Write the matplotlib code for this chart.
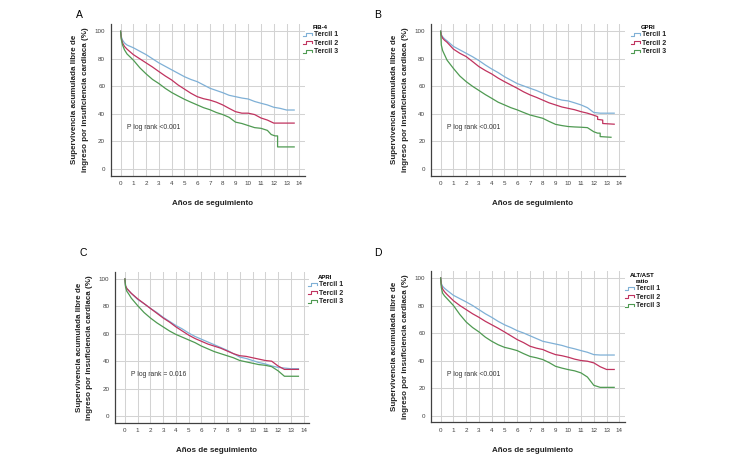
import numpy as np
import matplotlib
matplotlib.use("Agg")
import matplotlib.pyplot as plt
from matplotlib.lines import Line2D
from matplotlib.legend_handler import HandlerBase

plt.rcParams['font.family'] = ['Liberation Sans', 'DejaVu Sans']

# ---- data ----
years = [0, 0.05, 0.15, 0.3, 0.5, 1, 1.5, 2, 2.5, 3, 3.5, 4, 4.5, 5, 5.5, 6, 6.5,
         7, 7.5, 8, 8.5, 9, 9.5, 10, 10.5, 11, 11.5, 12, 12.5, 13, 13.6]

# A: FIB-4
fib4_t1 = [100, 96, 93.5, 91.5, 90, 88, 85.5, 83, 80, 77, 74.5, 72, 69.5, 67, 65, 63.4,
           61, 58.6, 57, 55.4, 53.5, 52.5, 51.5, 50.8, 49, 47.7, 46.5, 44.8, 44, 42.8, 42.8]
fib4_t2 = [100, 95, 91.5, 89, 87, 83, 80, 77, 74, 70.7, 67.5, 64.6, 61, 58, 55, 52.5,
           51, 50, 48.5, 46.5, 44, 41.6, 40.5, 40.5, 39.5, 37, 35.5, 33.3, 33.3, 33.3, 33.3]
fib4_t3_years = [0, 0.05, 0.15, 0.3, 0.5, 1, 1.5, 2, 2.5, 3, 3.5, 4, 4.5, 5, 5.5, 6, 6.5,
                 7, 7.5, 8, 8.5, 9, 9.5, 10, 10.5, 11, 11.5, 11.8, 12.1, 12.3, 12.3, 13.6]
fib4_t3 = [100, 94, 90, 86.5, 83.5, 79, 73.5, 69, 65, 62, 58.5, 55.5, 53, 50.6, 48.5, 46.5,
           44.5, 43, 41, 39.5, 37.5, 34, 33, 31.5, 30, 29.5, 28, 25, 24, 24, 16, 16]

# B: GPRI
gpri_t1 = [100, 97.5, 96, 94.5, 93, 89, 86.5, 84, 81.5, 78.7, 75.5, 72.6, 70, 67, 64.5, 62,
           60.3, 58.6, 57, 55, 53, 51.3, 50, 49.4, 48, 46.5, 44.5, 41, 40.5, 40.5, 40.5]
gpri_t2_years = [0, 0.05, 0.15, 0.3, 0.5, 1, 1.5, 2, 2.5, 3, 3.5, 4, 4.5, 5, 5.5, 6, 6.5,
                 7, 7.5, 8, 8.5, 9, 9.5, 10, 10.5, 11, 11.5, 12, 12.3, 12.3, 12.7, 12.7, 13.6]
gpri_t2 = [100, 97, 95, 93.5, 92, 87, 84, 81.6, 78, 74.3, 71.5, 69, 66, 63.4, 61, 58.6,
           56, 53.8, 52, 50, 48, 46.5, 45, 44, 43, 41.6, 40.5, 39, 38, 36, 35.5, 33, 32.5]
gpri_t3_years = [0, 0.05, 0.15, 0.3, 0.5, 1, 1.5, 2, 2.5, 3, 3.5, 4, 4.5, 5, 5.5, 6, 6.5,
                 7, 7.5, 8, 8.5, 9, 9.5, 10, 10.5, 11, 11.5, 12, 12.3, 12.5, 12.5, 13.35]
gpri_t3 = [100, 90, 86, 83, 79, 73, 67.5, 63.4, 60, 57, 54, 51.3, 48.5, 46.5, 44.5, 42.9,
           41, 39.2, 38, 36.8, 34.5, 32.4, 31.5, 30.8, 30.5, 30.3, 30, 27, 26, 26, 23.5, 23]

# C: APRI
apri_t1 = [100, 95, 93, 91.5, 89.5, 85, 82, 78.5, 75.5, 72, 69, 66, 63.5, 60.5, 58, 56,
           54, 52, 50, 48, 45.5, 43, 42, 40.5, 39, 38, 36.5, 35.5, 35, 34.5, 34.5]
apri_t2 = [100, 95, 93, 91.5, 89.5, 85.5, 82, 78.5, 75, 71.5, 68.5, 65, 62, 59, 56.5, 54.5,
           52.5, 51, 49.5, 47.5, 45.5, 44, 43.5, 42.5, 41.5, 40.5, 40, 36.5, 34, 34, 34]
apri_t3 = [100, 94, 91, 89, 86, 80.5, 75.5, 71.5, 68, 65, 62, 59.5, 57.5, 55.5, 53.5, 51,
           49, 47, 45.5, 44, 42.5, 40.5, 39.5, 38.5, 37.5, 37, 36, 33, 29, 29, 29]

# D: ALT/AST ratio
altast_t1 = [100, 96, 94, 92.5, 91, 87.4, 85, 82.6, 80, 77, 74, 71.4, 68.5, 66, 64, 61.7,
             60, 58, 56, 54, 53, 52, 51, 49.6, 48.5, 47.2, 46, 44.3, 44, 44, 44]
altast_t2 = [100, 95, 92, 90, 88, 83.5, 80, 77, 74, 71.4, 68.5, 66, 63.5, 60.8, 58, 55.2,
             53, 50.4, 49, 48, 46, 44.3, 43.5, 42.4, 41, 40, 39.5, 38.3, 35.5, 33.5, 33.5]
altast_t3 = [100, 93, 89, 87, 85, 80, 73.5, 68, 64, 60.8, 57, 54, 51.5, 49.6, 48.5, 47.2,
             45, 43, 42, 40.7, 38.5, 35.8, 34.5, 33.4, 32.5, 31, 28, 22, 20.5, 20.5, 20.5]

labels = ["Tercil 1", "Tercil 2", "Tercil 3"]
COLORS = ["#7fb0d6", "#c0335f", "#4f9a52"]

panels = [
    dict(letter="A", title="FIB-4", ptext="P log rank <0.001",
         series=[(years, fib4_t1), (years, fib4_t2), (fib4_t3_years, fib4_t3)],
         rect=[0.1476, 0.6254, 0.2591, 0.3235], letter_xy=(79, 15), leg_xy=(303, 25)),
    dict(letter="B", title="GPRI", ptext="P log rank <0.001",
         series=[(years, gpri_t1), (gpri_t2_years, gpri_t2), (gpri_t3_years, gpri_t3)],
         rect=[0.5743, 0.6254, 0.2591, 0.3235], letter_xy=(378, 15), leg_xy=(631, 25)),
    dict(letter="C", title="APRI", ptext="P log rank = 0.016",
         series=[(years, apri_t1), (years, apri_t2), (years, apri_t3)],
         rect=[0.1533, 0.0987, 0.2591, 0.3220], letter_xy=(83, 253), leg_xy=(308, 275)),
    dict(letter="D", title="ALT/AST\nratio", ptext="P log rank <0.001",
         series=[(years, altast_t1), (years, altast_t2), (years, altast_t3)],
         rect=[0.5743, 0.0996, 0.2591, 0.3232], letter_xy=(378, 253), leg_xy=(625, 273)),
]


class StepHandler(HandlerBase):
    # little KM-like step glyph for the legend
    def create_artists(self, legend, orig_handle, xdescent, ydescent,
                       width, height, fontsize, trans):
        xs = np.array([0, 0.35, 0.35, 1.0, 1.0]) * width - xdescent
        ys = np.array([0.15, 0.15, 0.7, 0.7, 0.35]) * height - ydescent
        ln = Line2D(xs, ys, color=orig_handle.get_color(), lw=0.8)
        ln.set_transform(trans)
        return [ln]


W, H = 750, 469
fig = plt.figure(figsize=(7.5, 4.69), dpi=100)

for p in panels:
    ax = fig.add_axes(p["rect"])
    handles = []
    for (t, s), c, lab in zip(p["series"], COLORS, labels):
        h, = ax.plot(t, s, color=c, lw=0.9, label=lab)
        handles.append(h)

    ax.set_xlim(-0.78, 14.45)
    ax.set_ylim(-4.9, 105.3)
    ax.set_xticks(range(0, 15))
    ax.set_yticks(range(0, 101, 20))
    ax.grid(True, color="#d3d3d3", lw=0.75)
    ax.set_axisbelow(True)
    for sp in ["top", "right"]:
        ax.spines[sp].set_visible(False)
    for sp in ["left", "bottom"]:
        ax.spines[sp].set_color("#404040")
        ax.spines[sp].set_linewidth(0.9)
    ax.tick_params(length=0, labelsize=4.5, labelcolor="#404040", pad=4)

    ax.set_ylabel("Supervivencia acumulada libre de\ningreso por insuficiencia cardiaca (%)",
                  fontsize=5.8, fontweight="bold", linespacing=1.7, color="#222222")
    ax.yaxis.set_label_coords(-0.112, 0.5)
    ax.set_xlabel("Años de seguimiento", fontsize=5.8, fontweight="bold", color="#222222")
    ax.xaxis.set_label_coords(0.525, -0.16)

    ax.text(0.5, 30, p["ptext"], fontsize=4.9, color="#333333", va="center")

    lx, ly = p["letter_xy"]
    fig.text(lx / W, 1 - ly / H, p["letter"], fontsize=7.5, ha="center", va="center")

    leg = ax.legend(handles=handles, handler_map={Line2D: StepHandler()},
                    title=p["title"], loc="upper left",
                    bbox_to_anchor=(p["leg_xy"][0] / W, 1 - p["leg_xy"][1] / H),
                    bbox_transform=fig.transFigure, frameon=False,
                    fontsize=5.0, title_fontsize=4.3, handlelength=1.3,
                    handleheight=0.8, handletextpad=0.25, labelspacing=0.2,
                    borderpad=0, borderaxespad=0)
    leg.get_title().set_fontweight("bold")
    leg.get_title().set_multialignment("center")
    for txt in leg.get_texts():
        txt.set_fontweight("bold")
        txt.set_color("#222222")

fig.savefig("out.png", dpi=100)
